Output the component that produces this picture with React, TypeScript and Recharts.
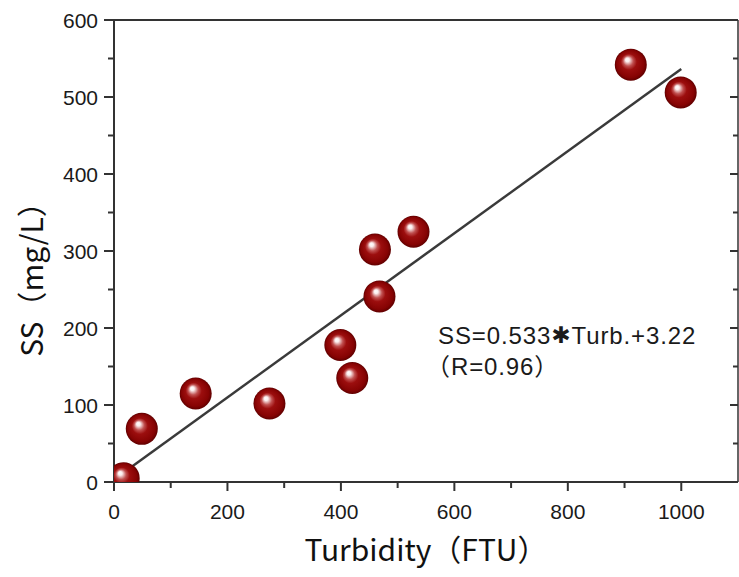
import React from "react";
import { ComposedChart, Scatter, Line, XAxis, YAxis, Label } from "recharts";

// Turbidity (FTU) vs suspended solids (mg/L) samples
const turbidity = [17, 49, 144, 274, 399, 420, 460, 468, 528, 911, 999];
const suspendedSolids = [5, 69, 115, 102, 178, 135, 302, 241, 325, 542, 506];

// Least-squares fit: SS = 0.533 * Turb. + 3.22
const fitSlope = 0.533;
const fitIntercept = 3.22;
const fitFrom = [16, 1000];

const xTicks = [0, 100, 200, 300, 400, 500, 600, 700, 800, 900, 1000];
const yTicks = [0, 50, 100, 150, 200, 250, 300, 350, 400, 450, 500, 550, 600];

const points = turbidity.map((t, i) => ({ x: t, y: suspendedSolids[i] }));
const fitLine = fitFrom.map((t) => ({ x: t, y: fitSlope * t + fitIntercept }));

const AXIS = "#333";
const TICK_FONT = "'Liberation Sans', Arial, sans-serif";
const TITLE_FONT = "'Noto Sans CJK JP', 'Noto Sans', sans-serif";
const NOTE_FONT = "'Liberation Sans', 'Noto Sans CJK JP', sans-serif";

// axes are given tickSize/tickMargin 0, so tick x/y sit right on the axis line
function BottomTick({ x, y, payload }: any) {
  const major = payload.value % 200 === 0;
  return (
    <g>
      <line x1={x} x2={x} y1={y} y2={y + (major ? 9 : 6)} stroke={AXIS} strokeWidth={2} />
      {major && (
        <text x={x} y={y + 37} textAnchor="middle" fontSize={21} fill="#1a1a1a" fontFamily={TICK_FONT}>
          {payload.value}
        </text>
      )}
    </g>
  );
}

function TopTick({ x, y, payload }: any) {
  const major = payload.value % 200 === 0;
  return <line x1={x} x2={x} y1={y} y2={y + (major ? 9 : 6)} stroke={AXIS} strokeWidth={2} />;
}

function LeftTick({ x, y, payload }: any) {
  const major = payload.value % 100 === 0;
  return (
    <g>
      <line x1={x} x2={x - (major ? 10 : 6)} y1={y} y2={y} stroke={AXIS} strokeWidth={2} />
      {major && (
        <text x={x - 16} y={y} textAnchor="end" dominantBaseline="central" fontSize={21} fill="#1a1a1a" fontFamily={TICK_FONT}>
          {payload.value}
        </text>
      )}
    </g>
  );
}

function RightTick({ x, y, payload }: any) {
  const major = payload.value % 100 === 0;
  return <line x1={x} x2={x - (major ? 8 : 5)} y1={y} y2={y} stroke={AXIS} strokeWidth={2} />;
}

function Ball({ cx, cy }: any) {
  return <circle cx={cx} cy={cy} r={16} fill="url(#ballShade)" />;
}

export default function App() {
  return (
    <div style={{ position: "absolute", left: 0, top: 0, width: 739, height: 577, overflow: "hidden", background: "#fff" }}>
      <svg width={0} height={0} style={{ position: "absolute" }}>
        <defs>
          <radialGradient id="ballShade" cx="50%" cy="50%" r="50%" fx="38%" fy="33%">
            <stop offset="0%" stopColor="#ffffff" />
            <stop offset="12%" stopColor="#fbeeee" />
            <stop offset="32%" stopColor="#c05050" />
            <stop offset="50%" stopColor="#9c0e0e" />
            <stop offset="85%" stopColor="#860303" />
            <stop offset="100%" stopColor="#600000" />
          </radialGradient>
        </defs>
      </svg>
      <ComposedChart width={760} height={577} margin={{ top: 10, right: 0, bottom: 55, left: 74 }}>
        <XAxis
          dataKey="x"
          type="number"
          domain={[0, 1100]}
          ticks={xTicks}
          interval={0}
          allowDataOverflow
          height={40}
          tickSize={0}
          tickMargin={0}
          tickLine={false}
          axisLine={{ stroke: AXIS, strokeWidth: 2 }}
          tick={<BottomTick />}
        >
          <Label
            content={() => (
              <text x={426} y={561} textAnchor="middle" fontSize={30} fill="#111" fontFamily={TITLE_FONT}>
                Turbidity（FTU）
              </text>
            )}
          />
        </XAxis>
        <XAxis
          xAxisId="top"
          orientation="top"
          type="number"
          domain={[0, 1100]}
          ticks={xTicks}
          interval={0}
          allowDataOverflow
          height={10}
          tickSize={0}
          tickMargin={0}
          tickLine={false}
          axisLine={{ stroke: AXIS, strokeWidth: 2 }}
          tick={<TopTick />}
        />
        <YAxis
          dataKey="y"
          type="number"
          domain={[0, 600]}
          ticks={yTicks}
          interval={0}
          allowDataOverflow
          width={40}
          tickSize={0}
          tickMargin={0}
          tickLine={false}
          axisLine={{ stroke: AXIS, strokeWidth: 2 }}
          tick={<LeftTick />}
        >
          <Label
            content={() => (
              <text
                x={30}
                y={272}
                transform="rotate(-90 30 272)"
                textAnchor="middle"
                dominantBaseline="central"
                fontSize={30}
                fill="#111"
                fontFamily={TITLE_FONT}
              >
                SS（mg/L）
              </text>
            )}
          />
        </YAxis>
        <YAxis
          yAxisId="right"
          orientation="right"
          type="number"
          domain={[0, 600]}
          ticks={yTicks}
          interval={0}
          allowDataOverflow
          width={22}
          tickSize={0}
          tickMargin={0}
          tickLine={false}
          axisLine={{ stroke: "#666", strokeWidth: 2 }}
          tick={<RightTick />}
        >
          <Label
            content={() => (
              <g fontSize={24} fill="#1a1a1a" fontFamily={NOTE_FONT} letterSpacing={0.9}>
                <text x={438} y={344}>
                  SS=0.533
                  <tspan fontFamily="'DejaVu Sans', sans-serif" fontSize={23} dy={-1}>✱</tspan>
                  <tspan dy={1}>Turb.+3.22</tspan>
                </text>
                <text x={426} y={375}>（R=0.96）</text>
              </g>
            )}
          />
        </YAxis>
        <Scatter data={points} shape={<Ball />} isAnimationActive={false} />
        <Line
          data={fitLine}
          dataKey="y"
          type="linear"
          stroke="#3a3a3a"
          strokeWidth={2.5}
          dot={false}
          activeDot={false}
          isAnimationActive={false}
        />
      </ComposedChart>
    </div>
  );
}
